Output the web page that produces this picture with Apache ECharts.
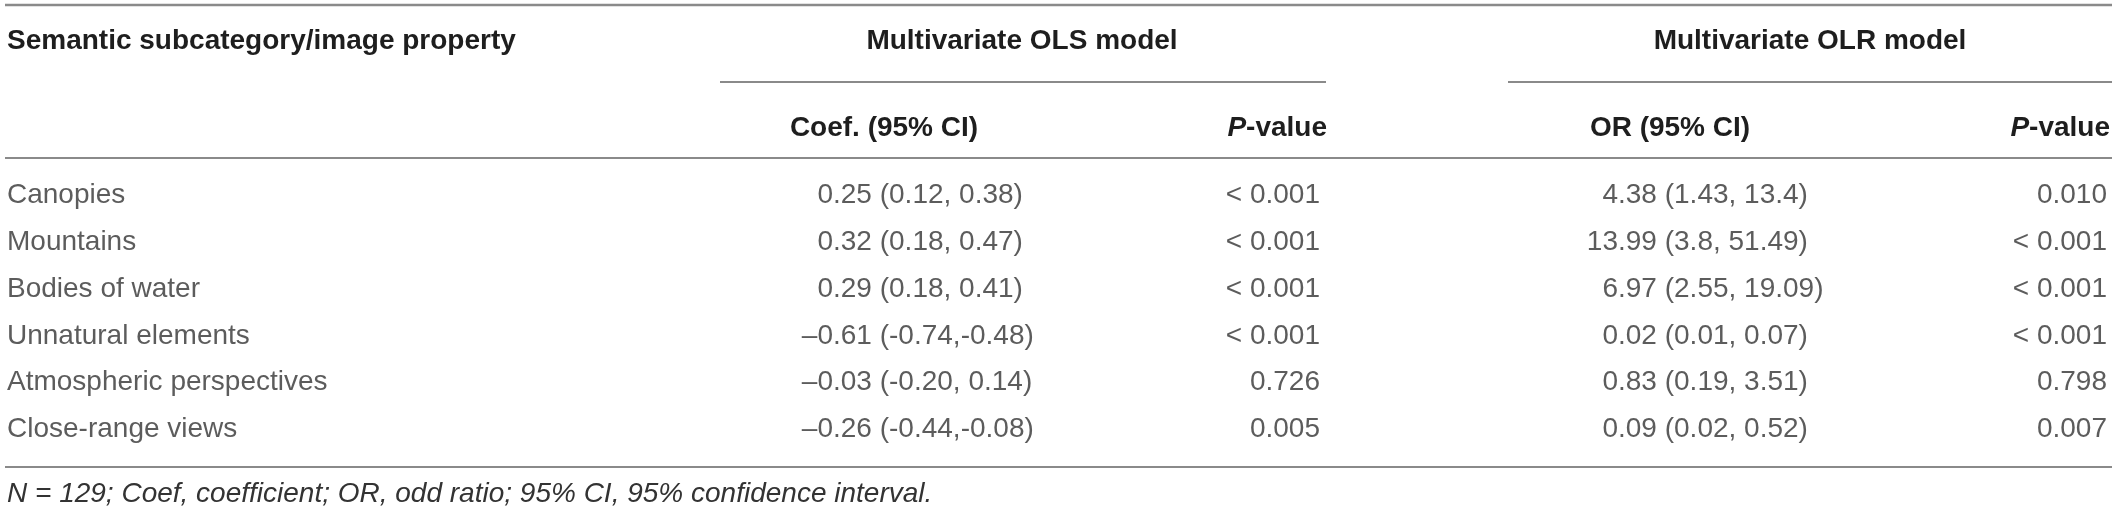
<!DOCTYPE html>
<html>
<head>
<meta charset="utf-8">
<script src="https://cdn.jsdelivr.net/npm/echarts@6/dist/echarts.min.js"></script>
<style>
  html, body { margin: 0; padding: 0; background: #fff; }
  #main { width: 2121px; height: 513px; }
</style>
</head>
<body>
<div id="main"></div>
<script>
// table content
const categories = ['Canopies', 'Mountains', 'Bodies of water', 'Unnatural elements', 'Atmospheric perspectives', 'Close-range views'];
const olsCoef = ['0.25 (0.12, 0.38)', '0.32 (0.18, 0.47)', '0.29 (0.18, 0.41)', '–0.61 (-0.74,-0.48)', '–0.03 (-0.20, 0.14)', '–0.26 (-0.44,-0.08)'];
const olsP = ['< 0.001', '< 0.001', '< 0.001', '< 0.001', '0.726', '0.005'];
const olrOr = ['4.38 (1.43, 13.4)', '13.99 (3.8, 51.49)', '6.97 (2.55, 19.09)', '0.02 (0.01, 0.07)', '0.83 (0.19, 3.51)', '0.09 (0.02, 0.52)'];
const olrP = ['0.010', '< 0.001', '< 0.001', '< 0.001', '0.798', '0.007'];
const headLeft = 'Semantic subcategory/image property';
const headGroups = ['Multivariate OLS model', 'Multivariate OLR model'];
const headCols = ['Coef. (95% CI)', '{i|P}-value', 'OR (95% CI)', '{i|P}-value'];
const footnote = 'N = 129; Coef, coefficient; OR, odd ratio; 95% CI, 95% confidence interval.';

const FONT = '"Liberation Sans", Arial, Helvetica, sans-serif';
const TXT = '#333333';
const RULE = '#8a8a8a';
const FS = 28;

const chart = echarts.init(document.getElementById('main'));

// x anchors of the columns (axis units = px)
const colX = { label: 7, coef: 833, pOls: 1320, or: 1618, pOlr: 2107 };

function textSeries(values, x, align) {
  return {
    type: 'scatter',
    silent: true,
    symbolSize: 1,
    itemStyle: { color: 'rgba(0,0,0,0)' },
    data: values.map((v, i) => [x, i, v]),
    label: {
      show: true,
      position: 'inside',
      align: align,
      verticalAlign: 'middle',
      fontSize: FS,
      fontFamily: FONT,
      color: TXT,
      formatter: p => p.value[2]
    }
  };
}

// numbers are aligned on the first decimal point
function decimalSeries(values, x) {
  const lead = values.map(s => s.slice(0, s.indexOf('.')));
  const rest = values.map(s => s.slice(s.indexOf('.')));
  return [textSeries(lead, x, 'right'), textSeries(rest, x, 'left')];
}

function rule(x1, y, x2, w) {
  return { type: 'line', silent: true, shape: { x1: x1, y1: y, x2: x2, y2: y }, style: { stroke: RULE, lineWidth: w || 2 } };
}
function txt(x, y, text, align, extra) {
  return {
    type: 'text', silent: true, x: x, y: y,
    style: Object.assign({
      text: text, fontSize: FS, fontFamily: FONT, fill: TXT,
      align: align, verticalAlign: 'middle',
      rich: { i: { fontStyle: 'italic', fontWeight: 'bold', fontSize: FS, fontFamily: FONT, fill: '#1e1e1e' } }
    }, extra || {})
  };
}

const bold = { fontWeight: 'bold', fill: '#1e1e1e' };

chart.setOption({
  animation: false,
  grid: { left: 0, right: 0, top: 158, bottom: 46 },
  xAxis: { type: 'value', min: 0, max: 2121, show: false },
  yAxis: { type: 'value', min: -0.8, max: 5.8, inverse: true, show: false },
  graphic: [
    rule(5, 5, 2112, 2.5),
    rule(720, 82, 1326),
    rule(1508, 82, 2112),
    rule(5, 158, 2112),
    rule(5, 467, 2112),
    txt(7, 41, headLeft, 'left', bold),
    txt(1022, 41, headGroups[0], 'center', bold),
    txt(1810, 41, headGroups[1], 'center', bold),
    txt(884, 128, headCols[0], 'center', bold),
    txt(1327, 128, headCols[1], 'right', bold),
    txt(1670, 128, headCols[2], 'center', bold),
    txt(2110, 128, headCols[3], 'right', bold),
    txt(7, 494, footnote, 'left', { fontStyle: 'italic' })
  ],
  series: [
    textSeries(categories, colX.label, 'left'),
    ...decimalSeries(olsCoef, colX.coef),
    textSeries(olsP, colX.pOls, 'right'),
    ...decimalSeries(olrOr, colX.or),
    textSeries(olrP, colX.pOlr, 'right')
  ]
});
</script>
</body>
</html>
